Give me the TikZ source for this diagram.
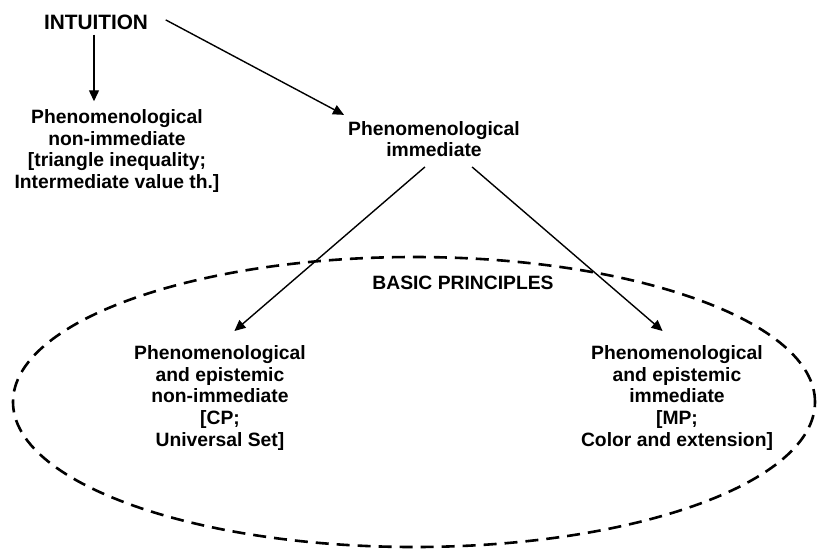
\documentclass[tikz,border=0pt]{standalone}
\usepackage{fontspec}
\setmainfont{Liberation Sans}
\usepackage{tikz}
\usetikzlibrary{arrows.meta}

\begin{document}
\begin{tikzpicture}[x=1pt, y=-1pt,
    lbl/.style={align=center, inner sep=2pt, font=\fontsize{19.3}{21.7}\selectfont\bfseries},
    arr/.style={-{Triangle[length=11pt,width=10pt]}, line width=1.4pt}]
            \useasboundingbox (0,0) rectangle (817,550);
            \node[lbl, font=\fontsize{20.8}{24}\selectfont\bfseries] (intu) at (96,22) {INTUITION};
            \node[lbl] (nonimm) at (117,151) {Phenomenological\\non-immediate\\{}[triangle inequality;\\Intermediate value th.]};
            \node[lbl] (phenimm) at (434,139) {Phenomenological\\immediate};
            \node[lbl] (basic) at (463,283) {BASIC PRINCIPLES};
            \node[lbl] (epinon) at (220,398) {Phenomenological\\and epistemic\\non-immediate\\{}[CP;\\Universal Set]};
            \node[lbl] (epimm) at (677,398) {Phenomenological\\and epistemic\\immediate\\{}[MP;\\Color and extension]};
            \draw[dashed, line width=2.6pt, dash pattern=on 13pt off 8pt] (414,402) ellipse [x radius=401pt, y radius=145pt];
            \draw[arr, shorten <=3pt, shorten >=6pt] ([xshift=-2pt]intu.south) -- ([xshift=-2pt]intu.south |- nonimm.north);
            \draw[arr, shorten <=4pt] ([xshift=12pt,yshift=4pt]intu.east) -- ([xshift=-2pt,yshift=4pt]phenimm.north west);
            \draw[arr, shorten <=12pt, shorten >=19pt] (phenimm.south) -- (epinon.north);
            \draw[arr, shorten <=12pt, shorten >=19pt] ([xshift=29pt]phenimm.south) -- (epimm.north);
          \end{tikzpicture}
\end{document}
